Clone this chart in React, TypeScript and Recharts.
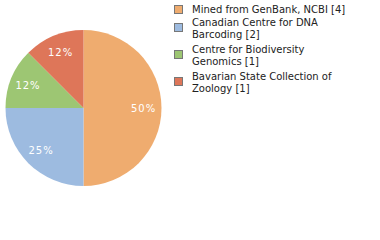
import { PieChart, Pie, Cell, Legend } from 'recharts'

const sources = [
  'Mined from GenBank, NCBI [4]',
  'Canadian Centre for DNA Barcoding [2]',
  'Centre for Biodiversity Genomics [1]',
  'Bavarian State Collection of Zoology [1]',
]
// legend text is wrapped the way the original draws it
const legendLines = [
  ['Mined from GenBank, NCBI [4]'],
  ['Canadian Centre for DNA', 'Barcoding [2]'],
  ['Centre for Biodiversity', 'Genomics [1]'],
  ['Bavarian State Collection of', 'Zoology [1]'],
]
const counts = [4, 2, 1, 1]
const colors = ['#EFAC6F', '#9DBBE0', '#9DC673', '#DE7659']

const data = sources.map((name, i) => ({ name, value: counts[i] }))
const total = counts.reduce((a, b) => a + b, 0)

const FONT = 'DejaVu Sans, Verdana, sans-serif'

const RADIAN = Math.PI / 180

const renderLabel = (props: any) => {
  const { cx, cy, midAngle, outerRadius, value } = props
  const r = outerRadius * 0.77
  const x = cx + r * Math.cos(-midAngle * RADIAN)
  const y = cy + r * Math.sin(-midAngle * RADIAN)
  return (
    <text
      x={x} y={y}
      fill="#fff"
      textAnchor="middle"
      dominantBaseline="central"
      fontSize={10}
      fontFamily={FONT}
      letterSpacing={1}
    >
      {Math.floor((value / total) * 100)}%
    </text>
  )
}

const LegendContent = () => (
  <div style={{ fontFamily: FONT, fontSize: 10, color: '#222', lineHeight: '12px' }}>
    {legendLines.map((lines, i) => (
      <div key={i} style={{ display: 'flex', alignItems: 'flex-start', marginBottom: i === 0 ? 1 : 3 }}>
        <div style={{
          width: 7, height: 7, background: colors[i], border: '1px solid #777',
          marginTop: 1 + (lines.length > 1 ? 5 : 0), marginRight: 9, flexShrink: 0,
        }} />
        <div>
          {lines.map((l, j) => <div key={j} style={{ whiteSpace: 'nowrap' }}>{l}</div>)}
        </div>
      </div>
    ))}
  </div>
)

export default function App() {
  return (
    <div style={{ position: 'absolute', top: 0, left: 0, width: 380, height: 240, background: '#fff' }}>
      <PieChart width={380} height={240} margin={{ top: 0, right: 0, bottom: 0, left: 0 }}>
        <Pie
          data={data}
          dataKey="value"
          cx={83.5}
          cy={108}
          outerRadius={78}
          startAngle={90}
          endAngle={-270}
          stroke="none"
          label={renderLabel}
          labelLine={false}
          isAnimationActive={false}
        >
          {data.map((d, i) => <Cell key={d.name} fill={colors[i]} />)}
        </Pie>
        <Legend
          layout="vertical"
          align="right"
          verticalAlign="top"
          content={<LegendContent />}
          wrapperStyle={{ left: 174, top: 4, width: 206 }}
        />
      </PieChart>
    </div>
  )
}
